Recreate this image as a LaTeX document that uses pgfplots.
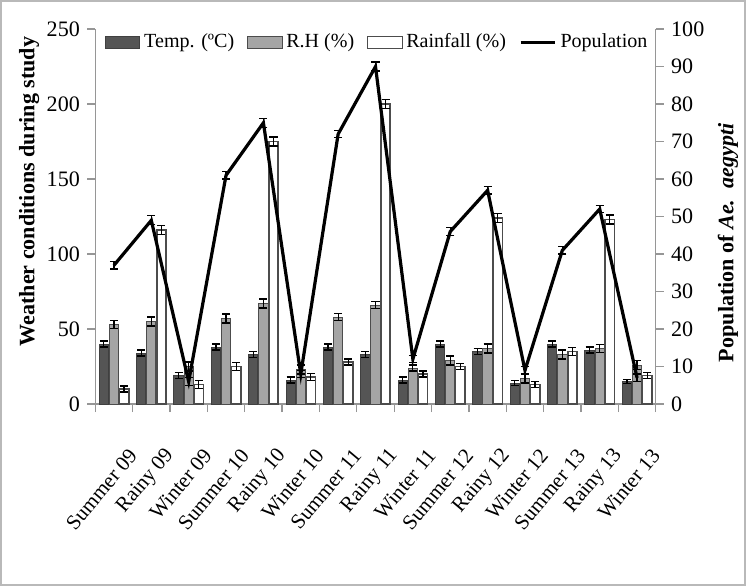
\documentclass[border=0pt]{standalone}
\usepackage{pgfplots}
\usepackage{pgfplotstable}
\pgfplotsset{compat=1.18}
\usepackage{fontspec}
\setmainfont{Liberation Serif}
\definecolor{tempcol}{RGB}{85,85,85}
\definecolor{rhcol}{RGB}{165,165,165}
\definecolor{axcol}{RGB}{150,150,150}
\pgfplotstableread{
x temp te rh re rain ra pop pe
0  40 2 53 2.5 10 2   37 1
1  34 2 55 3   116 3  49 1.2
2  19 2 25 3   13 2.5 6  1
3  38 2 57 3   25 2.5 61 1
4  33 2 67 3   175 3  75 1.2
5  16 2 23 3   18 2.5 8  1
6  38 2 58 2.5 28 2   72 1
7  33 2 66 2.5 200 3  90 1.2
8  16 2 24 2   20 2   12 1
9  40 2 29 3   25 2   46 1
10 35 2 37 3   124 3  57 1
11 14 1.5 17 3 13 2   9  1
12 40 2 33 3   35 2.5 41 1
13 36 2 37 2.5 123 3  52 1
14 15 1.5 26 3 19 2  7  1
}\data
\begin{document}
\begin{tikzpicture}
\fontsize{10.5}{12.5}\selectfont
\draw[gray!55, line width=1pt] (-47pt,-90pt) rectangle (324pt,201pt);
\begin{axis}[
  scale only axis, width=279.5pt, height=187pt,
  xmin=-0.5, xmax=14.5, ymin=0, ymax=250,
  axis x line*=bottom, axis y line*=left,
  axis line style={axcol, line width=0.6pt},
  tick style={axcol, line width=0.6pt},
  tick align=outside, major tick length=4pt,
  ytick={0,50,...,250},
  xtick={-0.5,0.5,...,14.5},
  x tick label as interval,
  xticklabels={Summer 09,Rainy 09,Winter 09,Summer 10,Rainy 10,Winter 10,Summer 11,Rainy 11,Winter 11,Summer 12,Rainy 12,Winter 12,Summer 13,Rainy 13,Winter 13},
  xticklabel style={rotate=50, anchor=east, yshift=-20pt, xshift=-5.5pt, font=\fontsize{10.5}{12.5}\selectfont},
  yticklabel style={font=\fontsize{11}{13}\selectfont},
  /pgf/number format/assume math mode=true,
  ylabel={\textbf{Weather conditions during study}},
  ylabel style={at={(axis description cs:-0.118,0.567)}, anchor=center, font=\fontsize{11}{13}\selectfont},
  error bars/y dir=both, error bars/y explicit,
  error bars/error bar style={black, line width=0.6pt},
  error bars/error mark options={rotate=90, mark size=2pt, black, line width=0.6pt},
]
\addplot[ybar, bar width=0.25, bar shift=0, fill=tempcol, draw=black!75, line width=0.5pt] table[x expr=\thisrow{x}-0.27, y=temp, y error=te]{\data};
\addplot[ybar, bar width=0.25, bar shift=0, fill=rhcol, draw=black!70, line width=0.5pt] table[x=x, y=rh, y error=re]{\data};
\addplot[ybar, bar width=0.25, bar shift=0, fill=white, draw=black!70, line width=0.8pt] table[x expr=\thisrow{x}+0.27, y=rain, y error=ra]{\data};
\end{axis}
\begin{axis}[
  scale only axis, width=279.5pt, height=187pt,
  xmin=-0.5, xmax=14.5, ymin=0, ymax=100,
  axis x line=none, axis y line*=right,
  axis line style={axcol, line width=0.6pt},
  tick style={axcol, line width=0.6pt},
  tick align=outside, major tick length=4pt,
  ytick={0,10,...,100},
  yticklabel style={font=\fontsize{11}{13}\selectfont},
  /pgf/number format/assume math mode=true,
  ylabel={\textbf{Population of \textit{Ae.\ \ aegypti}}},
  ylabel style={at={(axis description cs:1.129,0.43)}, anchor=center, font=\fontsize{11}{13}\selectfont},
  legend columns=4,
  legend style={at={(0.505,0.965)}, anchor=center, draw=none, fill=none, font=\fontsize{10}{12}\selectfont,
    inner sep=1pt,
    /tikz/every even column/.append style={column sep=4.5pt}},
  legend cell align=left,
]
\addlegendimage{area legend, fill=tempcol, draw=black!75}
\addlegendentry{Temp. (ºC)}
\addlegendimage{area legend, fill=rhcol, draw=black!70}
\addlegendentry{R.H (\%)}
\addlegendimage{area legend, fill=white, draw=black!70}
\addlegendentry{Rainfall (\%)}
\addplot[black, line width=1.6pt, mark=none,
  error bars/.cd, y dir=both, y explicit,
  error bar style={black, line width=0.6pt},
  error mark options={rotate=90, mark size=2pt, black, line width=0.6pt}]
  table[x=x, y=pop, y error=pe]{\data};
\addlegendentry{Population}
\end{axis}
\end{tikzpicture}
\end{document}
